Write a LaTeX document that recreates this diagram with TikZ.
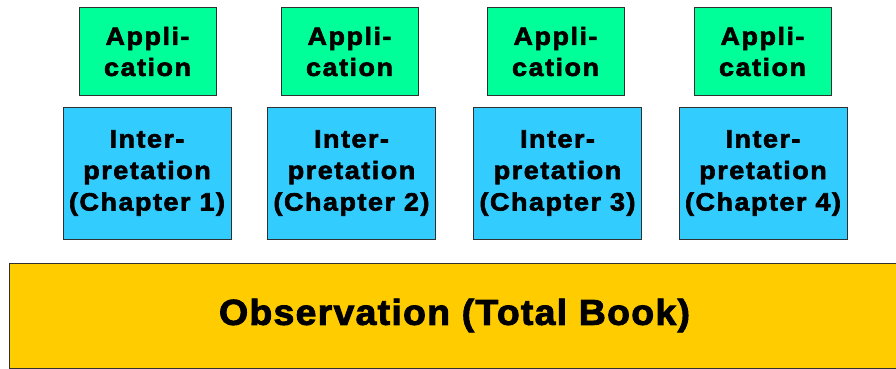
\documentclass[tikz,border=0pt]{standalone}
\usepackage{fontspec}
\setmainfont{Liberation Sans}
\newfontfamily\boxfont[LetterSpace=6,FakeBold=2.5,FakeStretch=1.08]{Liberation Sans Bold}
\newfontfamily\obsfont[LetterSpace=3.5,FakeBold=2.5,FakeStretch=1.04]{Liberation Sans Bold}
\definecolor{appgreen}{HTML}{00FF99}
\definecolor{intblue}{HTML}{33CCFF}
\definecolor{obsyellow}{HTML}{FFCC00}
\definecolor{edge}{HTML}{303030}
\begin{document}
\begin{tikzpicture}[x=1pt,y=-1pt,
  appbox/.style={draw=edge, line width=1pt, fill=appgreen, minimum width=137pt, minimum height=87pt, inner sep=0pt, align=center, font=\boxfont\fontsize{25}{31}\selectfont},
  intbox/.style={draw=edge, line width=1pt, fill=intblue, minimum width=168pt, minimum height=132pt, inner sep=0pt, align=center, font=\boxfont\fontsize{25}{31.5}\selectfont},
  obsbox/.style={draw=edge, line width=1pt, fill=obsyellow, minimum width=891pt, minimum height=105pt, inner sep=0pt, align=center, font=\obsfont\fontsize{36}{40}\selectfont}]
\useasboundingbox (0,0) rectangle (896,369);
\node[appbox] (a1) at (147.5,51.5) {Appli-\\cation};
\node[appbox] (a2) at (349.5,51.5) {Appli-\\cation};
\node[appbox] (a3) at (555.5,51.5) {Appli-\\cation};
\node[appbox] (a4) at (762.5,51.5) {Appli-\\cation};
\node[intbox] (i1) at (147,173) {Inter-\\pretation\\(Chapter 1)};
\node[intbox] (i2) at (351.5,173) {Inter-\\pretation\\(Chapter 2)};
\node[intbox] (i3) at (557.5,173) {Inter-\\pretation\\(Chapter 3)};
\node[intbox] (i4) at (763,173) {Inter-\\pretation\\(Chapter 4)};
\node[obsbox] (obs) at (454.5,315.5) {\raisebox{-3pt}{Observation (Total Book)}};
\end{tikzpicture}
\end{document}
